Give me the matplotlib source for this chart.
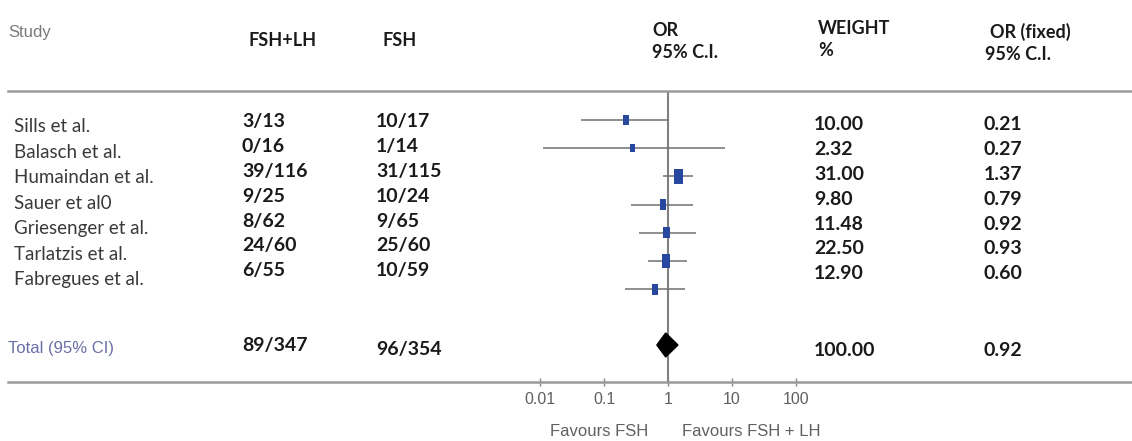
import matplotlib
matplotlib.use("Agg")
import matplotlib.pyplot as plt
from matplotlib.lines import Line2D
from matplotlib.path import Path
import numpy as np

# data
studies = ['Sills et al.', 'Balasch et al.', 'Humaindan et al.', 'Sauer et al0',
           'Griesenger et al.', 'Tarlatzis et al.', 'Fabregues et al.']
fsh_lh = ['3/13', '0/16', '39/116', '9/25', '8/62', '24/60', '6/55']
fsh = ['10/17', '1/14', '31/115', '10/24', '9/65', '25/60', '10/59']
weights = [10.00, 2.32, 31.00, 9.80, 11.48, 22.50, 12.90]
or_fixed = [0.21, 0.27, 1.37, 0.79, 0.92, 0.93, 0.60]
# positions of the plotted points and CI ends
or_plot = [0.22, 0.28, 1.45, 0.83, 0.95, 0.93, 0.63]
ci_lo = [0.044, 0.011, 0.83, 0.26, 0.35, 0.49, 0.21]
ci_hi = [1.05, 7.8, 2.5, 2.5, 2.7, 2.0, 1.85]

total_fsh_lh = '89/347'
total_fsh = '96/354'
total_weight = 100.00
total_or = 0.92
total_ci = (0.67, 1.43)

ticks = [0.01, 0.1, 1, 10, 100]
tick_labels = ['0.01', '0.1', '1', '10', '100']

W, H = 1132, 441
fig = plt.figure(figsize=(W / 100, H / 100), dpi=100)


def fx(x):
    return x / W


def fy(y):
    return 1 - y / H


def txt(x, y, s, size=13, weight='bold', color='#1a1a1a', family='Lato', ha='left'):
    fig.text(fx(x), fy(y), s, fontsize=size, fontweight=weight, color=color,
             family=family, ha=ha, va='center')


top_y, bot_y = 91, 382

# full-width rules
for yy in (top_y, bot_y):
    fig.add_artist(Line2D([fx(8), 1], [fy(yy), fy(yy)], color='#9a9a9a', lw=1.8))

# header
txt(8, 32, 'Study', size=12, weight='normal', color='#7a7a7a', family='Liberation Sans')
txt(248, 41, 'FSH+LH')
txt(383, 41, 'FSH')
txt(652, 30, 'OR')
txt(652, 52, '95% C.I.')
txt(818, 28, 'WEIGHT')
txt(818, 50, '%')
txt(990, 32, 'OR (fixed)')
txt(985, 55, '95% C.I.')

# table rows
for i in range(len(studies)):
    txt(14, 127 + 25.5 * i, studies[i], size=13.5, weight='normal', color='#3a3a3a')
    txt(242, 122 + 24.8 * i, fsh_lh[i], size=14)
    txt(376, 122 + 24.8 * i, fsh[i], size=14)
    txt(814, 125 + 24.8 * i, '{:.2f}'.format(weights[i]), size=14)
    txt(984, 125 + 24.8 * i, '{:.2f}'.format(or_fixed[i]), size=14)

txt(8, 348, 'Total (95% CI)', size=12, weight='normal', color='#6a6fa8',
    family='Liberation Sans')
txt(242, 346, total_fsh_lh, size=14)
txt(376, 350, total_fsh, size=14)
txt(814, 350, '{:.2f}'.format(total_weight), size=14)
txt(984, 350, '{:.2f}'.format(total_or), size=14)

# forest plot axes: 1 at x=668 px, 64 px per decade
ax = fig.add_axes([fx(540), fy(bot_y), fx(796) - fx(540), fy(top_y) - fy(bot_y)])
ax.set_xscale('log')
ax.set_xlim(0.01, 100)
ax.set_ylim(bot_y, top_y)
ax.patch.set_alpha(0)
for sp in ax.spines.values():
    sp.set_visible(False)

ax.axvline(1, color='#808080', lw=1.5, zorder=1)

rows = 120 + 28.2 * np.arange(len(studies))
ax.hlines(rows, ci_lo, ci_hi, color='#707070', lw=1.1, zorder=2)
box = Path([(-0.6, -1), (0.6, -1), (0.6, 1), (-0.6, 1), (-0.6, -1)])
ax.scatter(or_plot, rows, s=[25 + 3.0 * w for w in weights], marker=box,
           color='#2747a0', zorder=3, linewidths=0)

# pooled diamond
yd = 345
ax.fill([total_ci[0], total_or, total_ci[1], total_or],
        [yd, yd - 12, yd, yd + 12], color='black', zorder=4)

ax.set_xticks(ticks)
ax.set_xticklabels(tick_labels)
ax.minorticks_off()
ax.set_yticks([])
ax.tick_params(axis='x', direction='inout', length=6, width=1, color='#888888',
               labelsize=11.5, labelcolor='#606060', pad=4)
for lab in ax.get_xticklabels():
    lab.set_family('Liberation Sans')

txt(599, 431, 'Favours FSH', size=12, weight='normal', color='#606060',
    family='Liberation Sans', ha='center')
txt(751, 431, 'Favours FSH + LH', size=12, weight='normal', color='#606060',
    family='Liberation Sans', ha='center')

fig.savefig('out.png', dpi=100)
